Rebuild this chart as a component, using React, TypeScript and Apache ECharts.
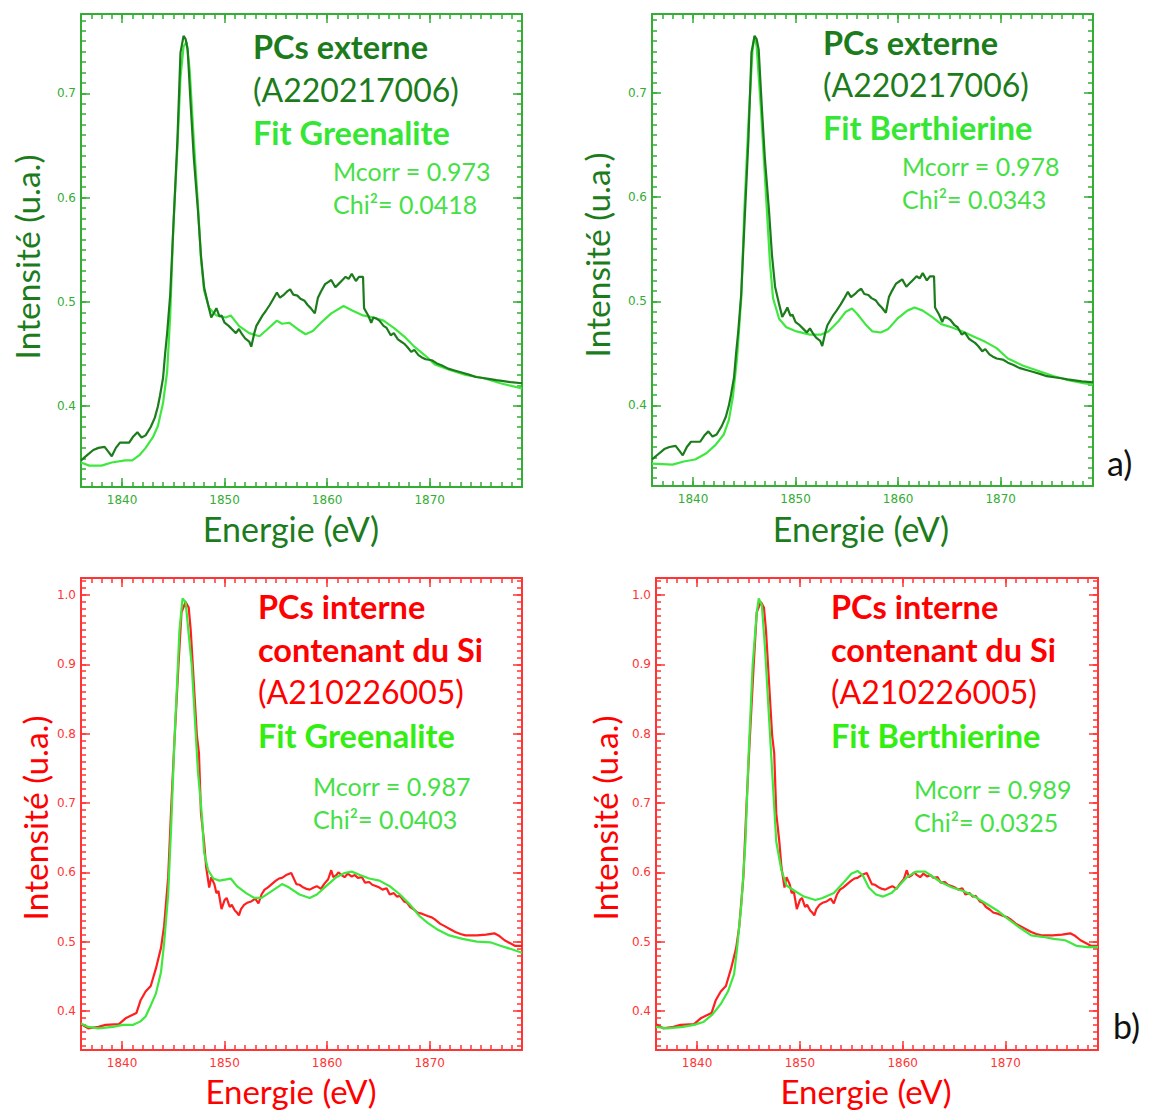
import React, { useEffect, useRef } from "react";
import * as echarts from "echarts";

// ---------- DATA ----------
const X_MIN = 1836;
const X_MAX = 1879;
const TOP_Y_MIN = 0.3225;
const TOP_Y_MAX = 0.776;
const BOT_Y_MIN = 0.3437;
const BOT_Y_MAX = 1.0245;

const xMajorTicks = [1840, 1850, 1860, 1870];
const topYMajorTicks = [0.4, 0.5, 0.6, 0.7];
const botYMajorTicks = [0.4, 0.5, 0.6, 0.7, 0.8, 0.9, 1.0];

// PCs externe (A220217006) - measured
const externeE = [1836.0, 1836.6, 1837.2, 1837.7, 1838.3, 1838.7, 1839.0, 1839.4, 1839.8, 1840.7, 1841.1, 1841.5, 1841.9, 1842.3, 1842.8, 1843.2, 1843.5, 1843.7, 1844.0, 1844.2, 1844.4, 1844.7, 1845.0, 1845.4, 1845.7, 1846.0, 1846.2, 1846.4, 1846.7, 1847.0, 1847.4, 1847.7, 1848.0, 1848.4, 1848.7, 1849.0, 1849.2, 1849.5, 1849.7, 1850.0, 1850.4, 1850.8, 1851.1, 1851.4, 1851.7, 1852.0, 1852.4, 1852.6, 1852.9, 1853.1, 1853.4, 1853.7, 1854.0, 1854.4, 1854.7, 1855.1, 1855.4, 1855.8, 1856.1, 1856.4, 1856.7, 1857.1, 1857.4, 1857.8, 1858.1, 1858.4, 1858.8, 1859.1, 1859.4, 1859.8, 1860.1, 1860.4, 1860.8, 1861.1, 1861.4, 1861.8, 1862.1, 1862.4, 1862.8, 1863.1, 1863.5, 1863.6, 1864.0, 1864.3, 1864.5, 1864.8, 1865.1, 1865.5, 1865.8, 1866.2, 1866.5, 1866.9, 1867.2, 1867.5, 1867.8, 1868.2, 1868.5, 1868.9, 1869.2, 1869.6, 1870.2, 1870.7, 1871.2, 1871.8, 1872.5, 1873.2, 1873.9, 1874.5, 1875.2, 1875.9, 1876.5, 1877.2, 1877.9, 1879.0];
const externeI = [0.348, 0.353, 0.358, 0.360, 0.361, 0.356, 0.352, 0.360, 0.365, 0.365, 0.371, 0.375, 0.370, 0.372, 0.380, 0.389, 0.400, 0.410, 0.427, 0.450, 0.470, 0.507, 0.571, 0.655, 0.739, 0.755, 0.752, 0.742, 0.688, 0.638, 0.588, 0.544, 0.514, 0.497, 0.485, 0.490, 0.494, 0.486, 0.487, 0.480, 0.477, 0.473, 0.470, 0.474, 0.469, 0.465, 0.462, 0.457, 0.470, 0.477, 0.482, 0.487, 0.491, 0.497, 0.502, 0.509, 0.504, 0.507, 0.510, 0.512, 0.507, 0.506, 0.503, 0.501, 0.497, 0.494, 0.489, 0.504, 0.510, 0.517, 0.519, 0.521, 0.514, 0.517, 0.520, 0.524, 0.522, 0.527, 0.520, 0.524, 0.524, 0.494, 0.487, 0.480, 0.485, 0.484, 0.482, 0.477, 0.475, 0.468, 0.470, 0.464, 0.462, 0.460, 0.457, 0.452, 0.454, 0.449, 0.447, 0.445, 0.444, 0.441, 0.439, 0.436, 0.434, 0.432, 0.430, 0.428, 0.427, 0.426, 0.425, 0.424, 0.423, 0.422];

// Fit Greenalite (top)
const fitGreenTopE = [1836.0, 1836.8, 1838.0, 1839.0, 1840.3, 1841.0, 1841.7, 1842.3, 1843.0, 1843.5, 1844.0, 1844.4, 1844.7, 1845.0, 1845.4, 1845.7, 1846.0, 1846.3, 1846.6, 1847.0, 1847.4, 1847.7, 1848.0, 1848.5, 1849.2, 1850.1, 1850.6, 1851.4, 1852.4, 1853.4, 1854.2, 1855.1, 1855.6, 1856.3, 1857.1, 1857.9, 1858.6, 1859.4, 1860.4, 1861.6, 1862.4, 1863.5, 1864.5, 1865.5, 1866.5, 1867.5, 1868.5, 1869.5, 1870.5, 1871.9, 1873.5, 1875.2, 1876.9, 1879.0];
const fitGreenTopI = [0.346, 0.343, 0.343, 0.346, 0.348, 0.348, 0.353, 0.360, 0.370, 0.381, 0.403, 0.433, 0.487, 0.571, 0.648, 0.715, 0.745, 0.749, 0.722, 0.655, 0.594, 0.541, 0.511, 0.494, 0.487, 0.485, 0.487, 0.477, 0.470, 0.467, 0.474, 0.482, 0.479, 0.480, 0.474, 0.469, 0.472, 0.480, 0.489, 0.496, 0.492, 0.487, 0.485, 0.482, 0.475, 0.467, 0.457, 0.449, 0.440, 0.435, 0.430, 0.427, 0.422, 0.417];

// Fit Berthierine (top)
const fitBerthTopE = [1836.0, 1838.0, 1839.1, 1840.2, 1841.3, 1842.2, 1843.0, 1843.5, 1843.9, 1844.3, 1844.7, 1845.0, 1845.4, 1845.8, 1846.0, 1846.2, 1846.6, 1847.1, 1847.5, 1847.8, 1848.4, 1849.1, 1850.1, 1851.4, 1852.5, 1853.2, 1854.2, 1854.9, 1855.5, 1856.0, 1856.8, 1857.5, 1858.3, 1859.0, 1859.9, 1860.9, 1861.6, 1862.4, 1863.3, 1864.2, 1865.2, 1866.3, 1867.4, 1868.5, 1869.6, 1870.7, 1872.2, 1873.7, 1875.2, 1876.7, 1878.2, 1879.0];
const fitBerthTopI = [0.344, 0.343, 0.346, 0.348, 0.354, 0.362, 0.372, 0.386, 0.409, 0.446, 0.503, 0.587, 0.671, 0.741, 0.755, 0.745, 0.688, 0.604, 0.537, 0.503, 0.483, 0.475, 0.471, 0.468, 0.468, 0.471, 0.481, 0.490, 0.493, 0.488, 0.478, 0.471, 0.470, 0.473, 0.483, 0.491, 0.494, 0.491, 0.485, 0.478, 0.475, 0.471, 0.466, 0.461, 0.455, 0.445, 0.438, 0.433, 0.428, 0.424, 0.421, 0.420];

// PCs interne contenant du Si (A210226005) - measured
const interneE = [1836.0, 1836.7, 1837.7, 1838.4, 1839.7, 1840.4, 1841.1, 1841.4, 1841.8, 1842.3, 1842.8, 1843.3, 1843.8, 1844.1, 1844.5, 1844.8, 1845.1, 1845.5, 1845.8, 1846.2, 1846.5, 1846.7, 1847.0, 1847.3, 1847.5, 1847.7, 1848.0, 1848.2, 1848.5, 1848.7, 1849.0, 1849.2, 1849.4, 1849.7, 1850.0, 1850.2, 1850.5, 1850.7, 1851.0, 1851.2, 1851.4, 1851.6, 1851.9, 1852.2, 1852.6, 1853.0, 1853.3, 1853.6, 1853.9, 1854.2, 1854.6, 1855.0, 1855.3, 1855.6, 1856.0, 1856.5, 1857.0, 1857.3, 1857.7, 1858.0, 1858.3, 1858.7, 1859.0, 1859.4, 1859.7, 1860.1, 1860.4, 1860.6, 1860.9, 1861.1, 1861.4, 1861.7, 1862.0, 1862.4, 1862.7, 1863.0, 1863.4, 1863.7, 1864.1, 1864.4, 1864.8, 1865.1, 1865.4, 1865.8, 1866.1, 1866.5, 1866.8, 1867.1, 1867.5, 1867.8, 1868.1, 1868.5, 1868.8, 1869.3, 1869.8, 1870.2, 1870.5, 1871.0, 1871.5, 1872.0, 1872.5, 1873.0, 1873.5, 1874.6, 1875.5, 1876.3, 1876.8, 1877.3, 1878.3, 1879.0];
const interneI = [0.381, 0.375, 0.377, 0.380, 0.381, 0.390, 0.395, 0.397, 0.415, 0.428, 0.436, 0.461, 0.491, 0.522, 0.593, 0.695, 0.786, 0.898, 0.975, 0.990, 0.982, 0.949, 0.873, 0.797, 0.772, 0.685, 0.644, 0.608, 0.578, 0.593, 0.583, 0.570, 0.573, 0.547, 0.560, 0.563, 0.550, 0.553, 0.545, 0.542, 0.538, 0.547, 0.553, 0.556, 0.558, 0.562, 0.555, 0.568, 0.575, 0.578, 0.583, 0.588, 0.591, 0.592, 0.596, 0.599, 0.583, 0.582, 0.578, 0.576, 0.575, 0.578, 0.580, 0.576, 0.583, 0.590, 0.603, 0.593, 0.596, 0.600, 0.596, 0.593, 0.598, 0.594, 0.596, 0.592, 0.593, 0.585, 0.586, 0.582, 0.580, 0.578, 0.575, 0.577, 0.568, 0.570, 0.565, 0.566, 0.558, 0.556, 0.550, 0.546, 0.542, 0.540, 0.537, 0.535, 0.532, 0.526, 0.522, 0.518, 0.514, 0.511, 0.509, 0.509, 0.510, 0.512, 0.508, 0.502, 0.494, 0.494];

// Fit Greenalite (bottom)
const fitGreenBotE = [1836.0, 1836.7, 1837.7, 1839.1, 1840.1, 1841.1, 1841.8, 1842.3, 1842.8, 1843.3, 1843.8, 1844.1, 1844.5, 1844.8, 1845.1, 1845.4, 1845.6, 1845.9, 1846.2, 1846.4, 1846.8, 1847.1, 1847.4, 1847.8, 1848.0, 1848.4, 1848.9, 1849.5, 1850.6, 1851.2, 1852.1, 1852.9, 1853.6, 1854.3, 1855.1, 1855.6, 1856.3, 1857.3, 1858.3, 1859.0, 1859.9, 1860.9, 1861.7, 1862.4, 1863.2, 1864.1, 1865.1, 1866.1, 1867.1, 1868.1, 1869.0, 1869.8, 1870.8, 1871.9, 1873.2, 1874.6, 1875.9, 1876.9, 1878.0, 1879.0];
const fitGreenBotI = [0.382, 0.377, 0.375, 0.377, 0.380, 0.380, 0.385, 0.392, 0.408, 0.425, 0.456, 0.497, 0.568, 0.669, 0.786, 0.883, 0.949, 0.995, 0.990, 0.959, 0.898, 0.822, 0.746, 0.680, 0.629, 0.603, 0.591, 0.588, 0.591, 0.580, 0.570, 0.563, 0.563, 0.570, 0.578, 0.583, 0.578, 0.568, 0.563, 0.568, 0.580, 0.593, 0.599, 0.601, 0.596, 0.591, 0.588, 0.580, 0.568, 0.553, 0.537, 0.527, 0.517, 0.509, 0.504, 0.500, 0.499, 0.494, 0.489, 0.484];

// Fit Berthierine (bottom)
const fitBerthBotE = [1836.0, 1837.1, 1838.6, 1839.7, 1840.6, 1841.5, 1842.3, 1843.0, 1843.6, 1843.9, 1844.3, 1844.7, 1845.0, 1845.4, 1845.8, 1846.0, 1846.3, 1846.6, 1847.0, 1847.4, 1847.7, 1848.2, 1848.7, 1849.5, 1850.4, 1851.5, 1852.2, 1853.3, 1854.3, 1855.0, 1855.6, 1856.1, 1856.7, 1857.4, 1858.1, 1858.9, 1859.6, 1860.4, 1861.3, 1862.2, 1862.9, 1863.7, 1864.8, 1865.9, 1867.0, 1868.1, 1869.2, 1870.3, 1871.4, 1872.5, 1873.6, 1874.7, 1875.8, 1876.9, 1878.0, 1879.0];
const fitBerthBotI = [0.377, 0.375, 0.377, 0.380, 0.384, 0.395, 0.410, 0.428, 0.453, 0.492, 0.553, 0.644, 0.766, 0.898, 0.975, 0.995, 0.985, 0.924, 0.822, 0.720, 0.644, 0.603, 0.581, 0.573, 0.565, 0.560, 0.563, 0.570, 0.586, 0.598, 0.602, 0.596, 0.578, 0.568, 0.565, 0.570, 0.580, 0.593, 0.601, 0.601, 0.594, 0.586, 0.578, 0.573, 0.565, 0.555, 0.545, 0.532, 0.520, 0.509, 0.507, 0.504, 0.502, 0.494, 0.492, 0.492];

// ---------- STYLE ----------
const GREEN_AXIS = "#33ad33";
const DARK_GREEN = "#1c7c1c";
const FIT_GREEN = "#3fe83f";
const RED = "#ff1f1f";
const RED_AXIS = "#ff3535";
const TEXT_FONT = "Lato";

function pairs(e: number[], v: number[]) {
  return e.map((x, i) => [x, v[i]]);
}

function minorList(from: number, to: number, step: number) {
  const out: number[] = [];
  const n = Math.round((to - from) / step);
  for (let i = 0; i <= n; i++) out.push(Number((from + i * step).toFixed(4)));
  return out;
}

type Panel = {
  left: number; top: number; width: number; height: number;
  yMin: number; yMax: number; yMajors: number[]; yMinors: number[];
  axisColor: string;
  exp: number[][]; expColor: string; fit: number[][]; fitOnTop: boolean;
};

export default function App() {
  const ref = useRef<HTMLDivElement>(null);
  useEffect(() => {
    if (!ref.current) return;
    const chart = echarts.init(ref.current, undefined, { renderer: "svg" });
    const xMinors = minorList(X_MIN, X_MAX, 1);
    const topMinors = minorList(0.33, 0.77, 0.01);
    const botMinors = minorList(0.35, 1.02, 0.01);
    const panels: Panel[] = [
      { left: 81, top: 14, width: 441, height: 473, yMin: TOP_Y_MIN, yMax: TOP_Y_MAX, yMajors: topYMajorTicks, yMinors: topMinors, axisColor: GREEN_AXIS, exp: pairs(externeE, externeI), expColor: DARK_GREEN, fit: pairs(fitGreenTopE, fitGreenTopI), fitOnTop: false },
      { left: 652, top: 14, width: 441, height: 472, yMin: TOP_Y_MIN, yMax: TOP_Y_MAX, yMajors: topYMajorTicks, yMinors: topMinors, axisColor: GREEN_AXIS, exp: pairs(externeE, externeI), expColor: DARK_GREEN, fit: pairs(fitBerthTopE, fitBerthTopI), fitOnTop: false },
      { left: 81, top: 578, width: 441, height: 472, yMin: BOT_Y_MIN, yMax: BOT_Y_MAX, yMajors: botYMajorTicks, yMinors: botMinors, axisColor: RED_AXIS, exp: pairs(interneE, interneI), expColor: RED, fit: pairs(fitGreenBotE, fitGreenBotI), fitOnTop: true },
      { left: 656, top: 578, width: 442, height: 472, yMin: BOT_Y_MIN, yMax: BOT_Y_MAX, yMajors: botYMajorTicks, yMinors: botMinors, axisColor: RED_AXIS, exp: pairs(interneE, interneI), expColor: RED, fit: pairs(fitBerthBotE, fitBerthBotI), fitOnTop: true },
    ];

    const grids: any[] = [];
    const xAxes: any[] = [];
    const yAxes: any[] = [];
    const series: any[] = [];

    panels.forEach((p, g) => {
      grids.push({ left: p.left, top: p.top, width: p.width, height: p.height, containLabel: false, outerBoundsMode: "none" });
      const lbl = { color: p.axisColor, fontSize: 12, fontFamily: "DejaVu Sans" };
      const mk = (kind: "x" | "y", pos: string, major: boolean, main: boolean) => {
        const isX = kind === "x";
        return {
          type: "value",
          gridIndex: g,
          position: pos,
          min: isX ? X_MIN : p.yMin,
          max: isX ? X_MAX : p.yMax,
          axisLine: { show: major, onZero: false, lineStyle: { color: p.axisColor, width: 2 } },
          axisTick: {
            show: true, inside: true, length: major ? 9 : 5,
            customValues: major ? (isX ? xMajorTicks : p.yMajors) : (isX ? xMinors : p.yMinors),
            lineStyle: { color: p.axisColor, width: 1.5 },
          },
          axisLabel: main
            ? { show: true, customValues: isX ? xMajorTicks : p.yMajors, margin: isX ? 7 : 5, ...lbl,
                formatter: (v: number) => (isX ? String(Math.round(v)) : v.toFixed(1)) }
            : { show: false },
          splitLine: { show: false },
        };
      };
      xAxes.push(mk("x", "bottom", true, true), mk("x", "bottom", false, false), mk("x", "top", true, false), mk("x", "top", false, false));
      yAxes.push(mk("y", "left", true, true), mk("y", "left", false, false), mk("y", "right", true, false), mk("y", "right", false, false));
      const expS = { type: "line", xAxisIndex: g * 4, yAxisIndex: g * 4, data: p.exp, showSymbol: false, symbol: "none", lineStyle: { color: p.expColor, width: 2.2 }, z: p.fitOnTop ? 2 : 3 };
      const fitS = { type: "line", xAxisIndex: g * 4, yAxisIndex: g * 4, data: p.fit, showSymbol: false, symbol: "none", lineStyle: { color: FIT_GREEN, width: 2.2 }, z: p.fitOnTop ? 3 : 2 };
      series.push(expS, fitS);
    });

    const t = (text: string, x: number, y: number, size: number, color: string, bold = false, extra: any = {}) => ({
      type: "text", x, y, ...extra,
      style: { text, fill: color, font: `${bold ? "bold " : ""}${size}px ${TEXT_FONT}`, align: extra.align || "left", verticalAlign: "middle" },
    });
    const vname = (x: number, y: number, color: string) =>
      t("Intensité (u.a.)", x, y, 33.5, color, false, { rotation: Math.PI / 2, align: "center" });
    const hname = (x: number, y: number, color: string, size = 34) =>
      t("Energie (eV)", x, y, size, color, false, { align: "center" });

    const BIG_B = 32.5;
    const BIG_R = 32;
    const SMALL = 25;
    const MC = "#45e045";

    const graphics: any[] = [
      // top-left
      t("PCs externe", 253, 46, BIG_B, DARK_GREEN, true),
      t("(A220217006)", 253, 89, BIG_R, DARK_GREEN),
      t("Fit Greenalite", 253, 132, BIG_B, "#35e635", true),
      t("Mcorr = 0.973", 333, 171, SMALL, MC),
      t("Chi²= 0.0418", 333, 204, SMALL, MC),
      vname(27, 257, DARK_GREEN),
      hname(291, 528, DARK_GREEN),
      // top-right
      t("PCs externe", 823, 42, BIG_B, DARK_GREEN, true),
      t("(A220217006)", 823, 84, BIG_R, DARK_GREEN),
      t("Fit Berthierine", 823, 127, BIG_B, "#35e635", true),
      t("Mcorr = 0.978", 902, 166, SMALL, MC),
      t("Chi²= 0.0343", 902, 199, SMALL, MC),
      vname(597, 255, DARK_GREEN),
      hname(861, 528, DARK_GREEN),
      t("a)", 1107, 462, 34, "#111111"),
      // bottom-left
      t("PCs interne", 258, 606, BIG_B, "#ff0000", true),
      t("contenant du Si", 258, 649, BIG_B, "#ff0000", true),
      t("(A210226005)", 258, 691, BIG_R, "#ff0000"),
      t("Fit Greenalite", 258, 735, BIG_B, "#33ee11", true),
      t("Mcorr = 0.987", 313, 786, SMALL, MC),
      t("Chi²= 0.0403", 313, 819, SMALL, MC),
      vname(35, 818, "#ff0000"),
      hname(291, 1091, "#ff0000", 33),
      // bottom-right
      t("PCs interne", 831, 606, BIG_B, "#ff0000", true),
      t("contenant du Si", 831, 649, BIG_B, "#ff0000", true),
      t("(A210226005)", 831, 691, BIG_R, "#ff0000"),
      t("Fit Berthierine", 831, 735, BIG_B, "#33ee11", true),
      t("Mcorr = 0.989", 914, 789, SMALL, MC),
      t("Chi²= 0.0325", 914, 822, SMALL, MC),
      vname(605, 818, "#ff0000"),
      hname(866, 1091, "#ff0000", 33),
      t("b)", 1113, 1025, 34, "#111111"),
    ];

    chart.setOption({
      animation: false,
      backgroundColor: "#ffffff",
      grid: grids,
      xAxis: xAxes,
      yAxis: yAxes,
      series,
      graphic: graphics,
    });
    return () => chart.dispose();
  }, []);
  return <div ref={ref} style={{ position: "absolute", left: 0, top: 0, width: 1151, height: 1113 }} />;
}
